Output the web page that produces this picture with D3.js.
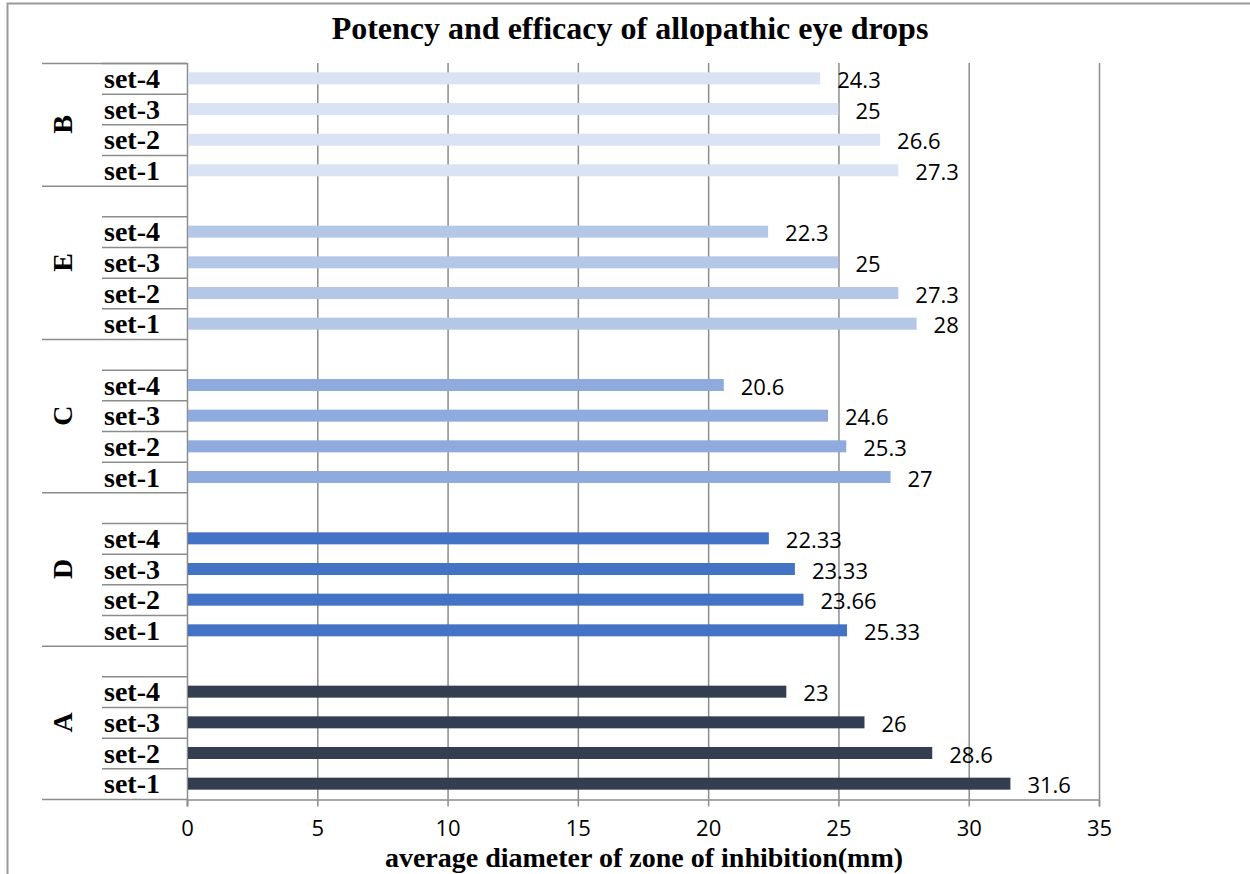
<!DOCTYPE html>
<html>
<head>
<meta charset="utf-8">
<script src="https://cdn.jsdelivr.net/npm/d3@7"></script>
<style>
  body { margin: 0; background: #fff; }
  svg { display: block; }
</style>
</head>
<body>
<svg id="chart"></svg>
<script>
// groups listed top to bottom, sets listed top to bottom within a group
const groups = ['B', 'E', 'C', 'D', 'A'];
const sets = ['set-4', 'set-3', 'set-2', 'set-1'];
const valuesB = [24.3, 25, 26.6, 27.3];
const valuesE = [22.3, 25, 27.3, 28];
const valuesC = [20.6, 24.6, 25.3, 27];
const valuesD = [22.33, 23.33, 23.66, 25.33];
const valuesA = [23, 26, 28.6, 31.6];
const labelsD = ['22.33', '23.33', '23.66', '25.33'];
const xTicks = [0, 5, 10, 15, 20, 25, 30, 35];
const groupColors = ['#dae3f3', '#b4c7e7', '#8faadc', '#4472c4', '#333f50'];

const WIDTH = 1250;
const HEIGHT = 874;
const LEFT = 187;
const RIGHT = 1099;
const TOP = 63;
const BOTTOM = 799;

const allValues = [valuesB, valuesE, valuesC, valuesD, valuesA];

// build rows: a blank slot above every group except the first
const rows = [];
groups.forEach((g, gi) => {
    if (gi > 0) rows.push({ key: g + '-blank', group: g, blank: true });
    sets.forEach((s, si) => {
        const v = allValues[gi][si];
        rows.push({
            key: g + '-' + s, group: g, set: s, value: v, gi: gi,
            label: g === 'D' ? labelsD[si] : String(v)
        });
    });
});

const svg = d3.select('#chart').attr('width', WIDTH).attr('height', HEIGHT);

const x = d3.scaleLinear().domain([0, 35]).range([LEFT, RIGHT]);
const y = d3.scaleBand().domain(rows.map(d => d.key)).range([TOP, BOTTOM]).padding(0);
const bandH = y.bandwidth();

// outer frame (left and top edges)
svg.append('path')
    .attr('d', `M7.5,${HEIGHT} V3.5 H${WIDTH}`)
    .attr('fill', 'none')
    .attr('stroke', '#9a9a9a')
    .attr('stroke-width', 2);

// title
svg.append('text')
    .attr('x', 630)
    .attr('y', 39)
    .attr('text-anchor', 'middle')
    .attr('font-family', 'Liberation Serif, Times New Roman, serif')
    .attr('font-weight', 'bold')
    .attr('font-size', 32)
    .text('Potency and efficacy of allopathic eye drops');

// vertical gridlines
svg.append('g')
    .selectAll('line')
    .data(xTicks.slice(1))
    .join('line')
    .attr('x1', d => x(d) + 0.5)
    .attr('x2', d => x(d) + 0.5)
    .attr('y1', TOP)
    .attr('y2', BOTTOM)
    .attr('stroke', '#8c8c8c')
    .attr('stroke-width', 1.5);

// x axis
const xAxis = svg.append('g')
    .attr('transform', `translate(0, ${BOTTOM + 0.5})`)
    .call(d3.axisBottom(x).tickValues(xTicks).tickSize(7).tickPadding(14).tickFormat(d3.format('d')));
xAxis.select('.domain').attr('stroke', '#8c8c8c').attr('stroke-width', 1.5);
xAxis.selectAll('.tick line').attr('stroke', '#8c8c8c').attr('stroke-width', 1.5);
xAxis.selectAll('.tick text')
    .attr('font-family', 'Open Sans, sans-serif')
    .attr('font-size', 22)
    .attr('fill', '#000');

svg.append('text')
    .attr('x', 644)
    .attr('y', 867)
    .attr('text-anchor', 'middle')
    .attr('font-family', 'Liberation Serif, Times New Roman, serif')
    .attr('font-weight', 'bold')
    .attr('font-size', 28)
    .text('average diameter of zone of inhibition(mm)');

// category axis lines
const catLines = svg.append('g').attr('stroke', '#8c8c8c').attr('stroke-width', 1.5);
catLines.append('line')
    .attr('x1', LEFT + 0.5).attr('x2', LEFT + 0.5)
    .attr('y1', TOP).attr('y2', BOTTOM + 7);

const dataRows = rows.filter(d => !d.blank);
// lines above each set label
catLines.selectAll('.setline')
    .data(dataRows)
    .join('line')
    .attr('class', 'setline')
    .attr('x1', 102).attr('x2', LEFT)
    .attr('y1', d => y(d.key) + 0.5)
    .attr('y2', d => y(d.key) + 0.5);

// group separators
const groupEdges = groups.map(g => y(rows.find(r => r.group === g).key));
groupEdges.push(BOTTOM);
catLines.selectAll('.groupline')
    .data(groupEdges)
    .join('line')
    .attr('class', 'groupline')
    .attr('x1', 42).attr('x2', LEFT)
    .attr('y1', d => d + 0.5)
    .attr('y2', d => d + 0.5);

// set labels
svg.append('g')
    .selectAll('text')
    .data(dataRows)
    .join('text')
    .attr('x', 104)
    .attr('y', d => y(d.key) + bandH / 2)
    .attr('dy', '0.35em')
    .attr('font-family', 'Liberation Serif, Times New Roman, serif')
    .attr('font-weight', 'bold')
    .attr('font-size', 28)
    .text(d => d.set);

// group labels, rotated, centred on the whole group span
svg.append('g')
    .selectAll('text')
    .data(groups)
    .join('text')
    .attr('transform', (g, gi) => {
        const cy = (groupEdges[gi] + groupEdges[gi + 1]) / 2;
        return `translate(62, ${cy}) rotate(-90)`;
    })
    .attr('text-anchor', 'middle')
    .attr('dy', '0.35em')
    .attr('font-family', 'Liberation Serif, Times New Roman, serif')
    .attr('font-weight', 'bold')
    .attr('font-size', 28)
    .text(d => d);

// bars
const barH = 12;
svg.append('g')
    .selectAll('rect')
    .data(dataRows)
    .join('rect')
    .attr('x', x(0) + 1)
    .attr('y', d => y(d.key) + (bandH - barH) / 2)
    .attr('width', d => x(d.value) - x(0) - 1)
    .attr('height', barH)
    .attr('fill', d => groupColors[d.gi]);

// value labels
svg.append('g')
    .selectAll('text')
    .data(dataRows)
    .join('text')
    .attr('x', d => x(d.value) + 17)
    .attr('y', d => y(d.key) + bandH / 2 + 2)
    .attr('dy', '0.35em')
    .attr('font-family', 'Open Sans, sans-serif')
    .attr('font-size', 22)
    .text(d => d.label);
</script>
</body>
</html>
